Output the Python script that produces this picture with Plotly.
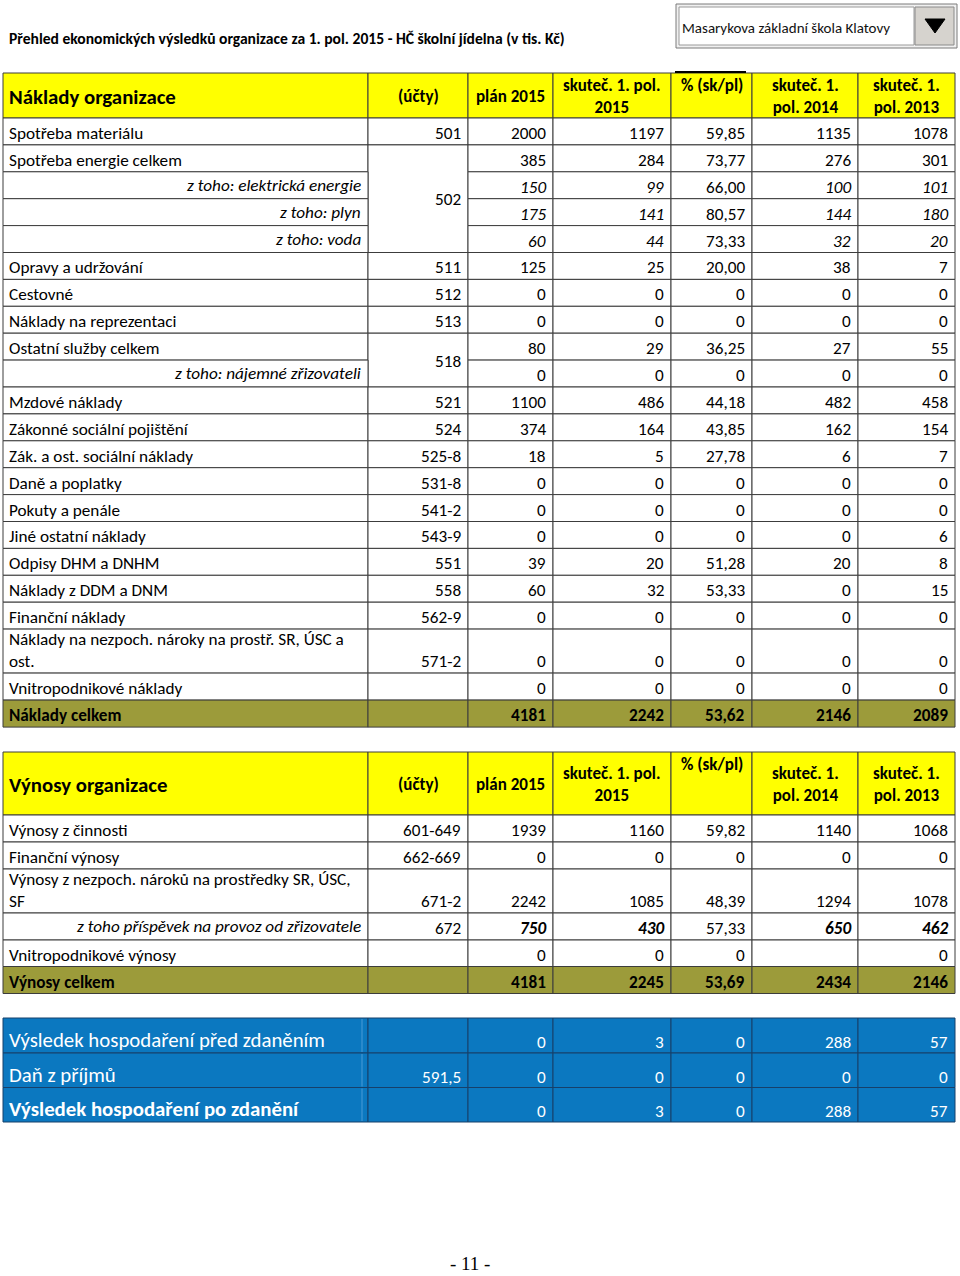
import plotly.graph_objects as go

# ---------------- data ----------------
title_text = "Přehled ekonomických výsledků organizace za 1. pol. 2015 - HČ školní jídelna (v tis. Kč)"
dropdown_text = "Masarykova základní škola Klatovy"
page_text = "- 11 -"

col_headers = ["(účty)", "plán 2015", "skuteč. 1. pol.<br>2015", "% (sk/pl)",
               "skuteč. 1.<br>pol. 2014", "skuteč. 1.<br>pol. 2013"]

naklady_labels = [
    "Spotřeba materiálu", "Spotřeba energie celkem", "z toho: elektrická energie",
    "z toho: plyn", "z toho: voda", "Opravy a udržování", "Cestovné",
    "Náklady na reprezentaci", "Ostatní služby celkem", "z toho: nájemné zřizovateli",
    "Mzdové náklady", "Zákonné sociální pojištění", "Zák. a ost. sociální náklady",
    "Daně a poplatky", "Pokuty a penále", "Jiné ostatní náklady", "Odpisy DHM a DNHM",
    "Náklady z DDM a DNM", "Finanční náklady",
    "Náklady na nezpoch. nároky na prostř. SR, ÚSC a<br>ost.",
    "Vnitropodnikové náklady", "Náklady celkem",
]
naklady_ucty = ["501", "502", "", "", "", "511", "512", "513", "518", "", "521", "524",
                "525-8", "531-8", "541-2", "543-9", "551", "558", "562-9", "571-2", "", ""]
naklady_ucty_span = [1, 4, 0, 0, 0, 1, 1, 1, 2, 0, 1, 1, 1, 1, 1, 1, 1, 1, 1, 1, 1, 1]
naklady_plan = [2000, 385, 150, 175, 60, 125, 0, 0, 80, 0, 1100, 374, 18, 0, 0, 0, 39, 60, 0, 0, 0, 4181]
naklady_skut2015 = [1197, 284, 99, 141, 44, 25, 0, 0, 29, 0, 486, 164, 5, 0, 0, 0, 20, 32, 0, 0, 0, 2242]
naklady_pct = [59.85, 73.77, 66.00, 80.57, 73.33, 20.00, 0, 0, 36.25, 0, 44.18, 43.85, 27.78,
               0, 0, 0, 51.28, 53.33, 0, 0, 0, 53.62]
naklady_skut2014 = [1135, 276, 100, 144, 32, 38, 0, 0, 27, 0, 482, 162, 6, 0, 0, 0, 20, 0, 0, 0, 0, 2146]
naklady_skut2013 = [1078, 301, 101, 180, 20, 7, 0, 0, 55, 0, 458, 154, 7, 0, 0, 6, 8, 15, 0, 0, 0, 2089]

vynosy_labels = [
    "Výnosy z činnosti", "Finanční výnosy",
    "Výnosy z nezpoch. nároků na prostředky SR, ÚSC,<br>SF",
    "z toho příspěvek na provoz od zřizovatele", "Vnitropodnikové výnosy", "Výnosy celkem",
]
vynosy_ucty = ["601-649", "662-669", "671-2", "672", "", ""]
vynosy_plan = [1939, 0, 2242, 750, 0, 4181]
vynosy_skut2015 = [1160, 0, 1085, 430, 0, 2245]
vynosy_pct = [59.82, 0, 48.39, 57.33, 0, 53.69]
vynosy_skut2014 = [1140, 0, 1294, 650, None, 2434]
vynosy_skut2013 = [1068, 0, 1078, 462, 0, 2146]

vysledek_labels = ["Výsledek hospodaření před zdaněním", "Daň z příjmů", "Výsledek hospodaření po zdanění"]
vysledek_ucty = ["", "591,5", ""]
vysledek_plan = [0, 0, 0]
vysledek_skut2015 = [3, 0, 3]
vysledek_pct = [0, 0, 0]
vysledek_skut2014 = [288, 0, 288]
vysledek_skut2013 = [57, 0, 57]

# ---------------- styles / layout ----------------
naklady_kind = ["n", "n", "sub", "sub", "sub", "n", "n", "n", "n", "sub", "n", "n", "n", "n", "n",
                "n", "n", "n", "n", "n", "n", "total"]
naklady_valstyle = ["", "", "i", "i", "i", "", "", "", "", "", "", "", "", "", "", "", "", "", "",
                    "", "", "b"]
naklady_heights = [26.9] * 19 + [44, 27, 27]
vynosy_kind = ["n", "n", "n", "sub", "n", "total"]
vynosy_valstyle = ["", "", "", "bi", "", "b"]
vynosy_heights = [27, 27, 44, 27, 26.5, 27]
vysledek_heights = [35, 34.5, 34.5]

X = [3, 368, 468, 553, 671, 752, 858, 955]
FONT = "Carlito, Calibri, Lato, sans-serif"
BODY = 17.2
YELLOW = "#FFFF00"
OLIVE = "#9C9B3A"
BLUE = "#0B78C0"
GRID = "#3c3c3c"

shapes, annots = [], []


def rect(x0, x1, y0, y1, fill, line=GRID, width=1):
    shapes.append(dict(type="rect", xref="x", yref="y", x0=x0, x1=x1, y0=y0, y1=y1,
                       fillcolor=fill, line=dict(color=line, width=width), layer="below"))


def txt(x, y, s, anchor="right", size=BODY, color="#000", style="", family=FONT):
    if "b" in style:
        s = "<b>" + s + "</b>"
    if "i" in style:
        s = "<i>" + s + "</i>"
    annots.append(dict(x=x, y=y, xref="x", yref="y", text=s, showarrow=False, xanchor=anchor,
                       yanchor="middle", align=anchor if anchor != "center" else "center",
                       font=dict(family=family, size=size, color=color)))


def fmt(v, pct=False):
    if v is None:
        return ""
    if pct:
        return "0" if v == 0 else f"{v:.2f}".replace(".", ",")
    return str(v)


def header(y0, y1, title):
    for i in range(7):
        rect(X[i], X[i + 1], y0, y1, YELLOW)
    mid = (y0 + y1) / 2
    txt(7, mid + 1, title, "left", 20.8, style="b")
    for i, h in enumerate(col_headers):
        cx = (X[i + 1] + X[i + 2]) / 2
        if h.startswith("%"):
            txt(cx, y0 + 12, h, "center", 17, style="b")
        else:
            txt(cx, mid + 1, h, "center", 17, style="b")


def section(top, labels, ucty, cols, kinds, vstyles, heights, span=None):
    y = top
    tops = []
    for h in heights:
        tops.append(y)
        y += h
    bottoms = [t + h for t, h in zip(tops, heights)]
    for r, lab in enumerate(labels):
        t, b = tops[r], bottoms[r]
        total = kinds[r] == "total"
        fill = OLIVE if total else "white"
        rect(X[0], X[1], t, b, fill)
        sp = span[r] if span else 1
        if sp > 0:
            ub = bottoms[r + sp - 1]
            rect(X[1], X[2], t, ub, fill)
            if ucty[r]:
                yy = (t + ub) / 2 + 1 if sp > 1 else b - 11.5
                txt(X[2] - 5, yy, ucty[r], "right")
        for c in range(5):
            rect(X[c + 2], X[c + 3], t, b, fill)
        ty = b - 11.5
        if "<br>" in lab:
            txt(7, b - 22.5, lab, "left")
        elif kinds[r] == "sub":
            txt(X[1] - 5, ty - 2, lab, "right", style="i")
        else:
            txt(7, ty, lab, "left", style="b" if total else "")
        for c, series in enumerate(cols):
            st = vstyles[r]
            if c == 2 and st != "b":
                st = ""
            txt(X[c + 3] - 5, ty, fmt(series[r], pct=(c == 2)), "right", style=st)


# top title and dropdown
txt(7, 38, title_text, "left", 15.6, style="b")
rect(676, 957, 4, 48, "#F0F0F0", line="#7a7a7a", width=1)
rect(679, 914, 7, 45, "white", line="#9a9a9a", width=1)
rect(915, 954, 7, 45, "#D6D3CE", line="#8a8a8a", width=1)
shapes.append(dict(type="path", xref="x", yref="y", path="M 925 19 L 945 19 L 935 33 Z",
                   fillcolor="#000", line=dict(color="#000", width=1)))
txt(680, 28, dropdown_text, "left", 15, color="#111")

# Náklady
header(73, 118, "Náklady organizace")
shapes.append(dict(type="line", xref="x", yref="y", x0=675, x1=746, y0=72, y1=72,
                   line=dict(color="#000", width=2)))
section(118, naklady_labels, naklady_ucty,
        [naklady_plan, naklady_skut2015, naklady_pct, naklady_skut2014, naklady_skut2013],
        naklady_kind, naklady_valstyle, naklady_heights, naklady_ucty_span)

# Výnosy
header(752, 815, "Výnosy organizace")
section(815, vynosy_labels, vynosy_ucty,
        [vynosy_plan, vynosy_skut2015, vynosy_pct, vynosy_skut2014, vynosy_skut2013],
        vynosy_kind, vynosy_valstyle, vynosy_heights)

# Výsledek (blue block)
y = 1018
vcols = [vysledek_plan, vysledek_skut2015, vysledek_pct, vysledek_skut2014, vysledek_skut2013]
for r, lab in enumerate(vysledek_labels):
    t, b = y, y + vysledek_heights[r]
    for i in range(7):
        rect(X[i], X[i + 1], t, b, BLUE, line="#17406a")
    shapes.append(dict(type="line", xref="x", yref="y", x0=362, x1=362, y0=t + 1, y1=b - 1,
                       line=dict(color="#4b9ad6", width=1)))
    txt(7, b - 13, lab, "left", 20.8, color="white", style="b" if r == 2 else "")
    if vysledek_ucty[r]:
        txt(X[2] - 5, b - 10.5, vysledek_ucty[r], "right", color="white")
    for c, series in enumerate(vcols):
        txt(X[c + 3] - 5, b - 10.5, fmt(series[r], pct=(c == 2)), "right", color="white")
    y = b

txt(470, 1263, page_text, "center", 19, family="Liberation Serif, Times New Roman, serif")

fig = go.Figure()
fig.update_layout(
    width=960, height=1276,
    margin=dict(l=0, r=0, t=0, b=0),
    paper_bgcolor="white", plot_bgcolor="white",
    xaxis=dict(range=[0, 960], visible=False, fixedrange=True),
    yaxis=dict(range=[1276, 0], visible=False, fixedrange=True),
    shapes=shapes, annotations=annots, showlegend=False,
)
fig.write_html("out.html", config={"displayModeBar": False},
               post_script="document.body.style.margin='0';document.body.style.overflow='hidden';")
